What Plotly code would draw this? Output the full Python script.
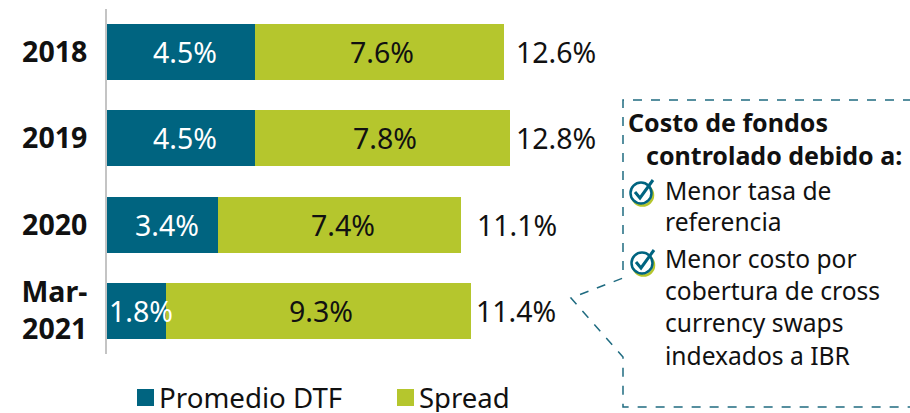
import plotly.graph_objects as go

categories = ["2018", "2019", "2020", "Mar-<br>2021"]
dtf = [4.5, 4.5, 3.4, 1.8]
spread = [7.6, 7.8, 7.4, 9.3]
totals = ["12.6%", "12.8%", "11.1%", "11.4%"]
total_shift = [14, 8, 18, 7]

TEAL = "#006480"
LIME = "#b5c62d"
FONT = "Noto Sans"
INK = "#111111"
W, H = 910, 413
L, R, T, B = 107, 0, 9, 59
PX_PER_UNIT = 32.78

px = lambda x: (x - L) / (W - L - R)
py = lambda y: 1 - (y - T) / (H - T - B)
ypos = list(range(len(categories)))

fig = go.Figure()
fig.add_bar(y=ypos, x=dtf, orientation="h", marker=dict(color=TEAL, line_width=0), showlegend=False, name="Promedio DTF")
fig.add_bar(y=ypos, x=spread, orientation="h", marker=dict(color=LIME, line_width=0), showlegend=False, name="Spread")

annotations = []
for c, a, b, t, s in zip(ypos, dtf, spread, totals, total_shift):
    annotations.append(dict(x=a / 2, y=c, xref="x", yref="y", text=f"{a:.1f}%", showarrow=False, xshift=4,
                            font=dict(size=28.5, color="white", family=FONT)))
    annotations.append(dict(x=a + b / 2, y=c, xref="x", yref="y", text=f"{b:.1f}%", showarrow=False, xshift=3,
                            font=dict(size=28.5, color=INK, family=FONT)))
    annotations.append(dict(x=a + b, y=c, xref="x", yref="y", text=t, showarrow=False, xanchor="left",
                            xshift=s - 4, font=dict(size=28.5, color=INK, family=FONT)))


def label(x, y, text, size=24.6, bold=False, height=None):
    annotations.append(dict(x=px(x), y=py(y), xref="paper", yref="paper", text=f"<b>{text}</b>" if bold else text,
                            showarrow=False, xanchor="left", yanchor="middle", align="left", height=height,
                            font=dict(size=size, color=INK, family=FONT)))


label(626, 122, "Costo de fondos", size=25, bold=True)
label(644, 155, "controlado debido a:", size=25, bold=True)
for y, t in [(190, "Menor tasa de"), (221, "referencia"), (258, "Menor costo por"),
             (290, "cobertura de cross"), (322, "currency swaps"), (355, "indexados a IBR")]:
    label(663, y, t)
label(157, 397, "Promedio DTF", size=27.7, height=30)
label(417, 397, "Spread", size=27.5, height=30)

shapes = []
# callout outline
pts = [(912, 100), (623, 100), (623, 278), (571, 298), (623, 357), (623, 407), (912, 407)]
path = "M " + " L ".join(f"{px(x):.5f},{py(y):.5f}" for x, y in pts)
shapes.append(dict(type="path", xref="paper", yref="paper", path=path,
                   line=dict(color="#1f6b80", width=1.5, dash="dash")))
# legend swatches
for x0, col in [(137, TEAL), (397, LIME)]:
    shapes.append(dict(type="rect", xref="paper", yref="paper", x0=px(x0), x1=px(x0 + 17), y0=py(389), y1=py(406),
                       fillcolor=col, line_width=0))
# check icons
for cx, cy in [(641, 193), (642, 263)]:
    shapes.append(dict(type="circle", xref="paper", yref="paper", x0=px(cx - 9), x1=px(cx + 12), y0=py(cy - 8),
                       y1=py(cy + 12.5), line=dict(color=LIME, width=2.5)))
    shapes.append(dict(type="circle", xref="paper", yref="paper", x0=px(cx - 10.5), x1=px(cx + 10.5), y0=py(cy - 10.5),
                       y1=py(cy + 10.5), line=dict(color=TEAL, width=2.5), fillcolor="white"))
    check = [(cx - 6, cy - 1), (cx - 1, cy + 5), (cx + 12, cy - 13)]
    shapes.append(dict(type="path", xref="paper", yref="paper",
                       path="M " + " L ".join(f"{px(x):.5f},{py(y):.5f}" for x, y in check),
                       line=dict(color=TEAL, width=3)))

fig.update_layout(
    barmode="stack", width=W, height=H, bargap=0.35, autosize=False,
    margin=dict(l=L, r=R, t=T, b=B, pad=0),
    paper_bgcolor="white", plot_bgcolor="white", annotations=annotations, shapes=shapes,
    font=dict(family=FONT),
    xaxis=dict(range=[0, (W - L - R) / PX_PER_UNIT], visible=False, fixedrange=True),
    yaxis=dict(range=[len(categories) - 0.5, -0.5], tickmode="array", tickvals=ypos, ticktext=categories,
               showline=True, linecolor="#c4c4c4", linewidth=2, ticks="", ticklabelstandoff=12,
               tickfont=dict(size=28.5, color=INK, family=FONT, weight="bold"),
               showgrid=False, zeroline=False),
)
fig.write_html("out.html", config={"displayModeBar": False},
               post_script="document.body.style.margin='0';document.body.style.overflow='hidden';")
